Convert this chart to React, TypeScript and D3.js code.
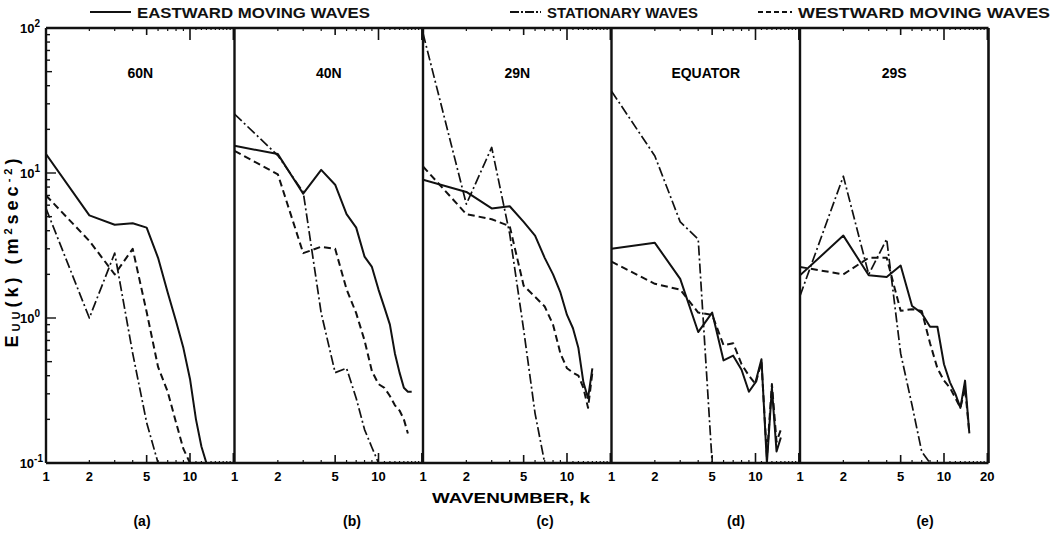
import React from "react";
import * as d3 from "d3";

// ---------- data (values for wavenumber k = 1, 2, 3, ...) ----------
const panelNames = ["60N", "40N", "29N", "EQUATOR", "29S"];
const panelLetters = ["(a)", "(b)", "(c)", "(d)", "(e)"];
const xTickValues = [1, 2, 5, 10];
const lastPanelExtraTicks = [20];
const yTickExponents = [2, 1, 0, -1];

const east60N = [13.5, 5.1, 4.4, 4.5, 4.2, 2.6, 1.5, 0.95, 0.62, 0.38, 0.2, 0.13, 0.1];
const stat60N = [5.7, 1.0, 2.8, 0.57, 0.19, 0.1];
const west60N = [7.0, 3.4, 2.0, 3.0, 1.1, 0.46, 0.31, 0.19, 0.125, 0.1];

const east40N = [15.4, 13.5, 7.2, 10.5, 8.3, 5.2, 4.2, 2.65, 2.25, 1.57, 1.18, 0.9, 0.57, 0.42, 0.33, 0.31, 0.31];
const stat40N = [25.5, 13.2, 7.4, 1.08, 0.42, 0.45, 0.28, 0.17, 0.128, 0.1];
const west40N = [14.2, 9.8, 2.8, 3.1, 3.0, 1.58, 1.08, 0.7, 0.43, 0.35, 0.33, 0.29, 0.25, 0.23, 0.2, 0.16];

const east29N = [9.0, 7.4, 5.7, 5.9, 4.6, 3.7, 2.6, 2.0, 1.5, 1.05, 0.85, 0.62, 0.36, 0.28, 0.45];
const stat29N = [92, 6.1, 15, 3.8, 0.83, 0.22, 0.1];
const west29N = [11.1, 5.2, 4.8, 4.3, 1.67, 1.4, 1.2, 0.9, 0.57, 0.45, 0.42, 0.4, 0.33, 0.24, 0.42];

const eastEq = [3.0, 3.3, 1.86, 0.8, 1.09, 0.51, 0.55, 0.44, 0.31, 0.36, 0.52, 0.1, 0.33, 0.12, 0.15];
const statEq = [36.7, 13.1, 4.6, 3.5, 0.1];
const westEq = [2.45, 1.72, 1.57, 1.09, 1.05, 0.65, 0.67, 0.48, 0.4, 0.35, 0.5, 0.11, 0.35, 0.14, 0.17];

const east29S = [1.97, 3.7, 1.97, 1.92, 2.3, 1.21, 1.08, 0.87, 0.87, 0.48, 0.36, 0.3, 0.24, 0.37, 0.16];
const stat29S = [1.42, 9.5, 2.0, 3.5, 0.57, 0.25, 0.12, 0.1];
const west29S = [2.25, 2.0, 2.6, 2.6, 1.12, 1.15, 1.12, 0.67, 0.45, 0.37, 0.33, 0.28, 0.24, 0.33, 0.16];

const eastward = [east60N, east40N, east29N, eastEq, east29S];
const stationary = [stat60N, stat40N, stat29N, statEq, stat29S];
const westward = [west60N, west40N, west29N, westEq, west29S];

// ---------- layout ----------
const W = 1064;
const H = 544;
const LEFT = 46;
const PANEL_W = 188.5;
const TOP = 28;
const BOTTOM = 463;
const DECADE_X = 144;
const RIGHT = LEFT + PANEL_W * 5;
const LETTER_X = [142, 352, 545, 736, 925];

const DASH = "7,4";
const DASHDOT = "10,3,2,3";
const FONT = "'Liberation Sans', Arial, Helvetica, sans-serif";

const yScale = d3.scaleLog().domain([0.1, 100]).range([BOTTOM, TOP]);

function xScaleFor(p: number) {
  const x0 = LEFT + p * PANEL_W;
  const xMax = Math.pow(10, PANEL_W / DECADE_X);
  return d3.scaleLog().domain([1, xMax]).range([x0, x0 + PANEL_W]);
}

export default function App() {
  const panels = panelNames.map((name, p) => {
    const xs = xScaleFor(p);
    const x0 = LEFT + p * PANEL_W;
    const line = d3
      .line<number>()
      .x((_, i) => xs(i + 1))
      .y((d) => yScale(d));
    const cx = x0 + PANEL_W / 2;

    const minorK = [2, 3, 4, 6, 7, 8, 9, 11, 12, 13, 14, 15, 16, 17, 18, 19];
    const ticks: JSX.Element[] = [];
    minorK.forEach((k) => {
      const x = xs(k);
      if (x > x0 + PANEL_W - 2) return;
      const len = k < 10 ? 3 : 2;
      ticks.push(<line key={"b" + k} x1={x} x2={x} y1={BOTTOM} y2={BOTTOM - len} />);
      ticks.push(<line key={"t" + k} x1={x} x2={x} y1={TOP} y2={TOP + len} />);
    });
    [5, 10, 20].forEach((k) => {
      const x = xs(k);
      if (x > x0 + PANEL_W - 1) return;
      const lb = k === 5 ? 8 : 10;
      const lt = k === 5 ? 7 : 12;
      ticks.push(<line key={"B" + k} x1={x} x2={x} y1={BOTTOM} y2={BOTTOM - lb} strokeWidth={1.6} />);
      ticks.push(<line key={"T" + k} x1={x} x2={x} y1={TOP} y2={TOP + lt} strokeWidth={1.6} />);
    });

    const labels = p === 4 ? xTickValues.concat(lastPanelExtraTicks) : xTickValues;

    return (
      <g key={name}>
        <clipPath id={"clip" + p}>
          <rect x={x0} y={TOP - 2} width={PANEL_W} height={BOTTOM - TOP + 2} />
        </clipPath>
        <g stroke="#111" strokeWidth={1.2}>{ticks}</g>
        <g clipPath={`url(#clip${p})`} fill="none" stroke="#111" strokeWidth={2} strokeLinejoin="round">
          <path d={line(eastward[p]) || ""} />
          <path d={line(stationary[p]) || ""} strokeDasharray={DASHDOT} strokeWidth={1.7} />
          <path d={line(westward[p]) || ""} strokeDasharray={DASH} />
        </g>
        <line x1={x0} x2={x0} y1={TOP} y2={BOTTOM} stroke="#111" strokeWidth={2.4} />
        <text x={cx} y={78} textAnchor="middle" fontSize={14} fontWeight="bold" fontFamily={FONT}>
          {name}
        </text>
        {labels.map((k) => (
          <text key={k} x={xs(k)} y={481} textAnchor="middle" fontSize={13} fontWeight="bold" fontFamily={FONT}>
            {k}
          </text>
        ))}
        <text x={LETTER_X[p]} y={526} textAnchor="middle" fontSize={14} fontWeight="bold" fontFamily={FONT}>
          {panelLetters[p]}
        </text>
      </g>
    );
  });

  // left axis ticks
  const yTicks: JSX.Element[] = [];
  for (let e = -1; e < 2; e++) {
    for (let m = 1; m < 10; m++) {
      const v = m * Math.pow(10, e);
      const y = yScale(v);
      const len = m === 1 ? 10 : m === 5 ? 6 : 4;
      yTicks.push(<line key={v} x1={LEFT} x2={LEFT + len} y1={y} y2={y} />);
    }
  }

  return (
    <svg
      width={W}
      height={H}
      style={{ position: "absolute", left: 0, top: 0, background: "#fff", display: "block" }}
    >
      <rect width={W} height={H} fill="#fff" />
      {/* legend */}
      <g fontFamily={FONT} fontWeight="bold" fontSize={15} fill="#111">
        <line x1={90} x2={131} y1={12} y2={12} stroke="#111" strokeWidth={2} />
        <text x={137} y={18} textLength={233} lengthAdjust="spacingAndGlyphs">EASTWARD MOVING WAVES</text>
        <line x1={510} x2={541} y1={12} y2={12} stroke="#111" strokeWidth={2} strokeDasharray="9,2,2,2" />
        <text x={547} y={18} textLength={151} lengthAdjust="spacingAndGlyphs">STATIONARY WAVES</text>
        <line x1={758} x2={792} y1={12} y2={12} stroke="#111" strokeWidth={2} strokeDasharray="5,3" />
        <text x={798} y={18} textLength={252} lengthAdjust="spacingAndGlyphs">WESTWARD MOVING WAVES</text>
      </g>

      {panels}

      {/* frame */}
      <g stroke="#111" strokeWidth={2.6}>
        <line x1={LEFT} x2={RIGHT} y1={TOP} y2={TOP} />
        <line x1={LEFT} x2={RIGHT} y1={BOTTOM} y2={BOTTOM} />
        <line x1={RIGHT} x2={RIGHT} y1={TOP} y2={BOTTOM} />
      </g>
      <g stroke="#111" strokeWidth={1.4}>{yTicks}</g>

      {/* y tick labels */}
      {yTickExponents.map((e) => (
        <text key={e} x={e < 0 ? 43 : 40} y={yScale(Math.pow(10, e)) + 5} textAnchor="end" fontSize={13} fontWeight="bold" fontFamily={FONT}>
          10
          <tspan dy={-6} fontSize={10}>{e < 0 ? "-" + Math.abs(e) : e}</tspan>
        </text>
      ))}

      {/* y axis title */}
      <text
        transform={`translate(18,251) rotate(-90)`}
        textAnchor="middle"
        fontSize={18}
        fontWeight="bold"
        fontFamily={FONT}
        letterSpacing={4}
      >
        E<tspan dy={2} fontSize={11}>UU</tspan>
        <tspan dy={-2}>(k) (m</tspan>
        <tspan dy={-6} fontSize={11}>2</tspan>
        <tspan dy={6}>sec</tspan>
        <tspan dy={-6} fontSize={11}>-2</tspan>
        <tspan dy={6}>)</tspan>
      </text>

      {/* x axis title */}
      <text x={511} y={503} textAnchor="middle" fontSize={15} fontWeight="bold" fontFamily={FONT} textLength={158} lengthAdjust="spacingAndGlyphs">
        WAVENUMBER, k
      </text>
    </svg>
  );
}
